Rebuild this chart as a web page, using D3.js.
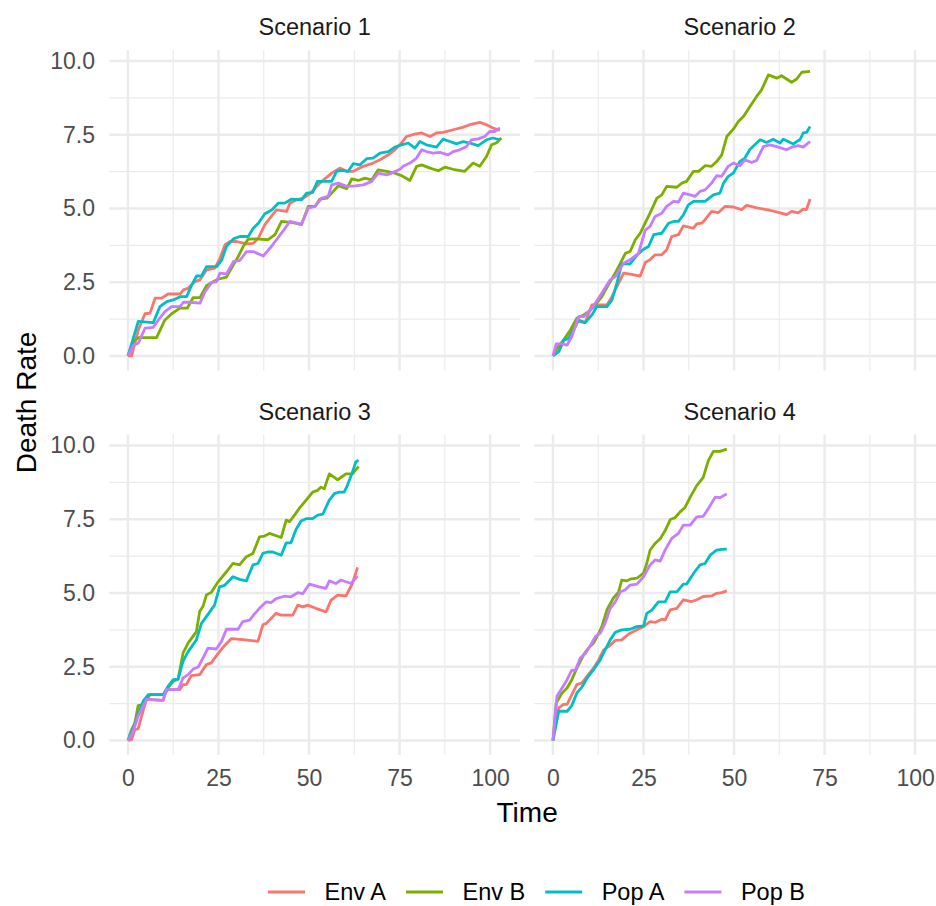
<!DOCTYPE html>
<html>
<head>
<meta charset="utf-8">
<script src="https://cdn.jsdelivr.net/npm/d3@7"></script>
<style>
  html, body { margin: 0; padding: 0; background: #fff; }
  svg { display: block; font-family: "Liberation Sans", Arial, Helvetica, sans-serif; }
</style>
</head>
<body>
<svg id="chart"></svg>
<script>
// facet labels, series and ticks
const scenarios = ["Scenario 1", "Scenario 2", "Scenario 3", "Scenario 4"];
const seriesNames = ["Env A", "Env B", "Pop A", "Pop B"];
const seriesColors = ["#F8766D", "#7CAE00", "#00BFC4", "#C77CFF"];
const xTicks = [0, 25, 50, 75, 100];
const yTicks = [0, 2.5, 5, 7.5, 10];

// [time, death rate]
const s1EnvA = [[0,0],[1.0,0],[2.85,0.88],[4.7,1.43],[6.1,1.45],[7.5,1.96],[9.3,1.96],[11.1,2.10],[14.4,2.10],[15.3,2.24],[16.7,2.30],[18.5,2.52],[19.9,2.58],[21.7,2.92],[24.0,2.98],[25.4,3.31],[26.8,3.77],[28.2,3.88],[30.0,3.88],[32.8,3.80],[34.6,3.82],[36.0,3.99],[37.8,4.45],[39.2,4.67],[41.0,4.95],[43.8,4.90],[44.7,5.18],[46.5,5.29],[48.4,5.35],[50.2,5.50],[53.0,5.86],[56.25,6.20],[58.5,6.37],[60.4,6.26],[62.2,6.26],[65.0,6.43],[67.7,6.54],[69.6,6.65],[71.9,6.82],[73.7,6.99],[75.1,7.16],[76.9,7.44],[79.2,7.52],[81.1,7.56],[83.4,7.44],[85.2,7.56],[87.0,7.58],[89.8,7.67],[92.6,7.76],[94.4,7.84],[97.2,7.92],[99.0,7.84],[100.8,7.73],[102.7,7.65]];
const s1EnvB = [[0,0],[1.5,0.49],[2.85,0.62],[7.9,0.62],[10.2,1.22],[12.05,1.43],[14.35,1.62],[16.4,1.62],[18.0,1.98],[19.9,1.98],[21.7,2.38],[23.1,2.49],[24.9,2.60],[27.2,2.67],[28.6,2.98],[30.45,3.37],[31.8,3.71],[33.2,3.96],[35.5,3.97],[38.7,3.94],[40.6,4.11],[42.4,4.56],[45.6,4.52],[47.9,4.45],[49.8,5.07],[51.65,5.07],[53.0,5.32],[54.9,5.35],[56.25,5.52],[58.1,5.77],[60.4,5.67],[61.8,6.00],[63.6,5.95],[65.4,6.03],[67.3,5.97],[69.1,6.31],[71.4,6.26],[73.7,6.20],[75.6,6.11],[77.85,5.95],[79.7,6.43],[81.1,6.48],[83.4,6.37],[85.7,6.28],[87.5,6.40],[89.8,6.33],[93.0,6.26],[95.3,6.54],[97.15,6.43],[99.0,6.76],[100.4,7.16],[101.7,7.22],[103.1,7.39]];
const s1PopA = [[0,0],[2.85,1.17],[7.0,1.13],[8.8,1.67],[10.7,1.84],[12.5,1.90],[14.4,2.01],[16.2,2.01],[17.6,2.41],[18.95,2.71],[20.3,2.71],[21.7,3.03],[24.5,3.03],[25.9,3.26],[27.2,3.71],[29.1,3.97],[30.9,4.05],[33.2,4.05],[34.6,4.33],[36.0,4.50],[37.8,4.82],[39.7,4.95],[41.5,5.18],[43.3,5.18],[45.2,5.32],[47.9,5.29],[49.3,5.52],[51.0,5.54],[52.3,5.92],[56.25,5.92],[57.6,6.26],[59.0,6.29],[60.8,6.26],[62.2,6.52],[64.1,6.48],[65.9,6.69],[67.7,6.71],[69.6,6.88],[71.9,6.93],[73.7,7.08],[75.6,7.16],[77.4,7.22],[79.2,7.05],[80.6,7.27],[82.4,7.16],[85.2,7.08],[87.0,7.35],[88.9,7.27],[90.7,7.19],[92.6,7.27],[94.4,7.22],[96.7,7.13],[99.0,7.33],[100.8,7.39],[102.7,7.33]];
const s1PopB = [[0,0],[1.5,0.37],[2.85,0.43],[4.7,0.94],[7.0,0.97],[8.4,1.22],[10.2,1.50],[12.05,1.67],[14.35,1.67],[15.3,1.82],[17.1,1.82],[19.9,1.79],[21.2,2.16],[23.1,2.49],[24.5,2.52],[25.4,2.81],[27.2,2.78],[29.1,3.20],[30.9,3.24],[32.75,3.54],[34.6,3.54],[37.35,3.39],[39.2,3.65],[41.0,3.94],[42.9,4.25],[44.7,4.56],[47.9,4.47],[49.8,5.01],[51.65,5.07],[53.5,5.35],[55.3,5.41],[56.25,5.80],[58.1,5.86],[60.4,5.75],[62.7,5.77],[65.0,5.80],[67.3,5.92],[69.1,6.20],[71.4,6.14],[72.8,6.20],[75.1,6.33],[76.0,6.43],[77.85,6.54],[79.7,6.71],[81.1,6.99],[82.4,6.93],[84.3,6.88],[86.1,6.90],[88.4,6.82],[89.8,6.93],[91.6,6.99],[93.5,7.10],[94.85,7.33],[96.7,7.36],[98.5,7.44],[99.9,7.61],[101.3,7.61],[102.7,7.73]];

const s2EnvA = [[0,0],[1.6,0.15],[2.9,0.49],[4.8,0.83],[6.6,1.17],[8.9,1.13],[10.75,1.73],[14.9,1.73],[16.3,2.01],[17.65,2.35],[19.5,2.81],[21.3,2.77],[24.1,2.71],[25.5,3.17],[26.8,3.26],[28.2,3.43],[30.05,3.43],[31.4,3.60],[32.8,4.05],[34.65,4.11],[36.0,4.41],[38.8,4.33],[39.7,4.48],[41.1,4.50],[42.0,4.62],[43.8,4.90],[45.7,4.86],[47.5,5.07],[49.8,5.05],[52.1,4.96],[53.5,5.11],[56.25,5.02],[59.9,4.94],[62.2,4.87],[64.5,4.79],[65.9,4.90],[67.7,4.85],[69.1,4.98],[70.0,4.96],[71.0,5.32]];
const s2EnvB = [[0,0],[1.1,0.26],[2.9,0.54],[4.8,0.88],[6.6,1.28],[8.5,1.39],[9.8,1.50],[11.7,1.73],[13.5,2.01],[15.3,2.41],[17.2,2.81],[18.6,3.14],[20.0,3.48],[21.3,3.54],[22.7,3.93],[24.1,4.16],[25.5,4.52],[26.8,4.84],[28.7,5.35],[30.05,5.46],[31.4,5.75],[34.2,5.72],[35.6,5.86],[36.9,5.92],[38.8,6.26],[40.2,6.26],[42.0,6.45],[43.8,6.43],[45.2,6.59],[46.6,6.82],[48.0,7.44],[49.8,7.69],[51.2,7.95],[52.6,8.12],[54.4,8.46],[56.25,8.80],[57.6,9.02],[59.5,9.53],[61.8,9.42],[63.1,9.50],[65.9,9.28],[67.3,9.39],[68.7,9.62],[71.0,9.65]];
const s2PopA = [[0,0],[1.6,0.15],[2.9,0.54],[4.3,0.58],[5.7,0.88],[7.1,1.22],[8.9,1.13],[10.75,1.39],[12.1,1.67],[14.9,1.67],[16.3,1.90],[17.65,2.47],[19.0,3.12],[21.3,3.12],[23.2,3.42],[25.0,3.62],[26.4,3.71],[27.8,4.11],[30.05,4.16],[31.9,4.50],[33.3,4.56],[34.65,4.56],[36.0,4.78],[37.4,5.12],[38.8,5.24],[42.0,5.24],[44.3,5.46],[46.1,5.52],[47.1,5.86],[48.4,6.09],[49.8,6.20],[51.65,6.60],[53.0,6.71],[54.4,7.01],[57.2,7.33],[59.0,7.24],[60.8,7.35],[62.7,7.22],[63.6,7.35],[66.4,7.19],[67.3,7.27],[68.2,7.33],[69.1,7.56],[70.0,7.58],[71.0,7.78]];
const s2PopB = [[0,0],[0.9,0.41],[2.5,0.41],[3.9,0.37],[5.2,0.66],[7.1,1.33],[8.5,1.33],[9.8,1.47],[11.7,1.79],[13.5,2.13],[15.8,2.58],[17.2,2.69],[19.5,3.14],[21.3,3.26],[23.6,3.48],[25.5,4.27],[26.8,4.39],[28.2,4.73],[30.05,4.84],[31.4,5.07],[33.3,5.24],[34.65,5.22],[36.0,5.52],[37.9,5.46],[39.2,5.41],[40.6,5.58],[42.0,5.63],[43.8,5.86],[45.2,6.11],[46.6,6.09],[48.4,6.43],[49.8,6.54],[51.65,6.45],[53.0,6.65],[54.9,6.56],[56.25,6.63],[58.1,7.10],[59.9,7.16],[61.8,7.10],[64.5,6.99],[65.9,7.08],[67.7,7.13],[69.1,7.08],[71.0,7.27]];

const s3EnvA = [[0,0],[1.0,0.03],[1.9,0.37],[2.8,0.39],[3.8,0.84],[5.1,1.39],[9.7,1.36],[10.6,1.72],[14.3,1.72],[15.2,1.89],[16.1,1.89],[17.5,2.20],[19.8,2.23],[21.65,2.57],[23.0,2.63],[24.9,2.95],[26.7,3.22],[28.5,3.45],[31.7,3.42],[35.9,3.36],[37.25,3.92],[38.2,3.97],[40.9,4.31],[42.3,4.25],[45.5,4.25],[46.9,4.59],[48.3,4.53],[49.6,4.59],[51.9,4.48],[54.7,4.36],[56.1,4.76],[57.9,4.93],[60.2,4.90],[62.0,5.33],[63.4,5.87]];
const s3EnvB = [[0,0],[1.0,0.37],[1.9,0.59],[2.8,1.18],[4.2,1.21],[6.1,1.55],[9.7,1.55],[10.6,1.66],[11.5,1.86],[12.5,2.00],[13.85,2.08],[15.2,2.96],[16.6,3.30],[18.9,3.69],[19.8,4.37],[20.7,4.54],[21.65,4.93],[23.0,5.02],[24.9,5.38],[27.2,5.72],[29.0,6.00],[30.8,5.95],[32.7,6.23],[34.5,6.34],[36.3,6.90],[37.7,6.93],[39.1,7.02],[42.3,6.88],[43.7,7.47],[44.6,7.42],[46.0,7.64],[47.3,7.87],[49.2,8.15],[51.0,8.42],[52.4,8.48],[53.3,8.59],[54.2,8.53],[55.6,9.04],[57.9,8.84],[60.2,9.04],[62.0,9.04],[63.7,9.29]];
const s3PopA = [[0,0],[1.5,0.43],[2.8,0.88],[4.2,1.33],[5.6,1.55],[9.7,1.55],[11.1,1.84],[12.5,2.06],[13.85,2.08],[15.2,2.68],[16.6,3.01],[18.9,3.41],[20.3,3.97],[21.65,4.20],[23.9,4.59],[25.3,5.21],[26.7,5.26],[29.0,5.55],[30.8,5.46],[32.7,5.41],[34.5,5.95],[35.9,6.00],[37.25,6.34],[38.6,6.39],[40.0,6.39],[42.3,6.28],[43.7,6.70],[45.0,6.70],[46.4,7.15],[47.8,7.44],[49.2,7.52],[51.0,7.52],[52.4,7.64],[53.8,7.67],[55.6,8.15],[57.0,8.37],[58.3,8.42],[59.7,8.42],[60.6,8.65],[62.0,9.10],[62.9,9.44],[63.7,9.50]];
const s3PopB = [[0,0],[1.0,0.20],[1.9,0.48],[2.8,0.82],[5.1,1.39],[9.7,1.36],[10.6,1.72],[13.85,1.72],[15.2,2.12],[16.6,2.23],[18.0,2.42],[19.4,2.49],[20.7,2.79],[22.1,3.13],[24.4,3.10],[25.8,3.35],[27.2,3.77],[30.4,3.77],[31.7,4.03],[33.6,4.08],[34.95,4.29],[36.3,4.48],[38.2,4.70],[39.5,4.67],[40.9,4.81],[43.2,4.89],[45.0,4.87],[46.9,5.01],[48.3,4.98],[50.1,5.30],[52.8,5.21],[54.7,5.16],[55.6,5.41],[57.4,5.32],[58.8,5.44],[61.6,5.32],[63.4,5.57]];

const s4EnvA = [[0,0],[0.6,0.48],[1.6,1.10],[2.9,1.22],[3.9,1.22],[5.2,1.55],[6.6,1.89],[8.0,1.95],[9.4,2.17],[11.2,2.45],[12.6,2.73],[14.0,3.07],[15.35,3.18],[17.2,3.39],[19.0,3.41],[20.9,3.61],[23.2,3.75],[25.0,3.86],[26.8,4.03],[28.2,4.00],[30.05,4.11],[31.0,4.09],[32.35,4.43],[34.2,4.48],[36.0,4.77],[38.3,4.71],[39.7,4.77],[41.5,4.88],[43.8,4.90],[45.2,4.99],[46.6,5.01],[48.0,5.07]];
const s4EnvB = [[0,0],[0.9,1.27],[2.5,1.61],[3.9,1.78],[5.2,2.06],[6.6,2.45],[8.5,2.91],[9.8,3.13],[11.2,3.30],[12.6,3.62],[13.5,3.86],[14.9,4.43],[16.7,4.83],[18.1,5.03],[19.0,5.44],[20.4,5.41],[21.3,5.47],[23.2,5.50],[25.0,5.67],[25.9,6.00],[26.8,6.45],[28.2,6.68],[29.6,6.84],[31.0,7.12],[32.4,7.49],[33.7,7.55],[35.1,7.75],[36.5,7.91],[37.9,8.25],[39.7,8.64],[41.5,8.92],[42.9,9.49],[44.3,9.80],[46.1,9.80],[48.0,9.88]];
const s4PopA = [[0,0],[1.6,0.99],[3.9,0.99],[5.2,1.18],[6.6,1.61],[8.0,1.81],[9.4,2.11],[11.2,2.40],[13.05,2.73],[14.4,3.07],[15.8,3.41],[17.2,3.67],[19.0,3.75],[21.3,3.77],[23.2,3.86],[25.0,3.88],[25.9,4.31],[27.3,4.42],[29.1,4.70],[31.0,4.70],[32.35,5.04],[34.2,5.04],[36.0,5.30],[36.9,5.30],[38.8,5.66],[40.6,5.95],[42.0,6.00],[43.4,6.28],[45.2,6.45],[46.6,6.48],[48.0,6.49]];
const s4PopB = [[0,0],[1.1,1.50],[2.5,1.78],[3.9,2.06],[5.2,2.38],[6.2,2.38],[7.5,2.79],[8.9,2.94],[10.3,3.21],[11.7,3.52],[13.05,3.64],[14.4,3.97],[15.8,4.48],[17.2,4.70],[18.6,5.04],[19.9,5.10],[21.3,5.27],[23.2,5.30],[25.0,5.55],[26.8,5.95],[28.2,6.12],[29.6,6.08],[31.0,6.46],[32.8,6.85],[34.65,7.02],[36.0,7.30],[37.9,7.30],[39.7,7.58],[41.5,7.60],[42.9,7.86],[44.8,8.25],[46.1,8.23],[48.0,8.36]];

const scenarioData = [
  [s1EnvA, s1EnvB, s1PopA, s1PopB],
  [s2EnvA, s2EnvB, s2PopA, s2PopB],
  [s3EnvA, s3EnvB, s3PopA, s3PopB],
  [s4EnvA, s4EnvB, s4PopA, s4PopB]
];

const width = 936, height = 906;
const panelLeft = 109.3, panelTop = 50;
const pw = 410.7, ph = 320.5, hgap = 14.3, vgap = 64;
const grid = "#EBEBEB";

const svg = d3.select("#chart")
    .attr("width", width)
    .attr("height", height)
    .attr("viewBox", [0, 0, width, height]);

// fixed scales shared by all facets, 5% expansion like ggplot
const allPts = scenarioData.flat(2);
const tMax = d3.max(allPts, d => d[0]);
const vMax = d3.max(allPts, d => d[1]);
const x = d3.scaleLinear().domain([-0.05 * tMax, 1.05 * tMax]).range([0, pw]);
const y = d3.scaleLinear().domain([-0.05 * vMax, 1.05 * vMax]).range([ph, 0]);

const midpoints = t => t.slice(0, -1).map((d, i) => (d + t[i + 1]) / 2);
const xMinor = midpoints(xTicks);
const yMinor = midpoints(yTicks);

const line = d3.line()
    .x(d => x(d[0]))
    .y(d => y(d[1]));

scenarios.forEach((name, i) => {
    const col = i % 2, row = Math.floor(i / 2);
    const g = svg.append("g")
        .attr("transform", `translate(${panelLeft + col * (pw + hgap)},${panelTop + row * (ph + vgap)})`);

    // minor grid
    g.selectAll(".xminor").data(xMinor).join("line")
        .attr("class", "xminor")
        .attr("x1", d => x(d)).attr("x2", d => x(d))
        .attr("y1", 0).attr("y2", ph)
        .attr("stroke", grid).attr("stroke-width", 1.2);
    g.selectAll(".yminor").data(yMinor).join("line")
        .attr("class", "yminor")
        .attr("x1", 0).attr("x2", pw)
        .attr("y1", d => y(d)).attr("y2", d => y(d))
        .attr("stroke", grid).attr("stroke-width", 1.2);

    // major grid
    g.selectAll(".xmajor").data(xTicks).join("line")
        .attr("class", "xmajor")
        .attr("x1", d => x(d)).attr("x2", d => x(d))
        .attr("y1", 0).attr("y2", ph)
        .attr("stroke", grid).attr("stroke-width", 2.4);
    g.selectAll(".ymajor").data(yTicks).join("line")
        .attr("class", "ymajor")
        .attr("x1", 0).attr("x2", pw)
        .attr("y1", d => y(d)).attr("y2", d => y(d))
        .attr("stroke", grid).attr("stroke-width", 2.4);

    // series
    g.selectAll("path.series").data(scenarioData[i]).join("path")
        .attr("class", "series")
        .attr("d", line)
        .attr("fill", "none")
        .attr("stroke", (d, k) => seriesColors[k])
        .attr("stroke-width", 2.8)
        .attr("stroke-linejoin", "round")
        .attr("stroke-linecap", "butt");

    // strip label
    g.append("text")
        .attr("x", pw / 2)
        .attr("y", -15)
        .attr("text-anchor", "middle")
        .attr("fill", "#1A1A1A")
        .style("font-size", "23.5px")
        .text(name);

    if (col === 0) {
        const ya = g.append("g")
            .call(d3.axisLeft(y).tickValues(yTicks).tickFormat(d3.format(".1f")).tickSize(0).tickPadding(14.3));
        ya.select(".domain").remove();
        ya.attr("font-family", null).attr("font-size", null);
        ya.selectAll("text").attr("fill", "#4D4D4D").style("font-size", "23px");
    }
    if (row === 1) {
        const xa = g.append("g")
            .attr("transform", `translate(0,${ph})`)
            .call(d3.axisBottom(x).tickValues(xTicks).tickFormat(d3.format("d")).tickSize(0).tickPadding(14.5));
        xa.select(".domain").remove();
        xa.attr("font-family", null).attr("font-size", null);
        xa.selectAll("text").attr("fill", "#4D4D4D").style("font-size", "23px");
    }
});

// axis titles
const panelsRight = panelLeft + 2 * pw + hgap;
svg.append("text")
    .attr("x", (panelLeft + panelsRight) / 2)
    .attr("y", 821.7)
    .attr("text-anchor", "middle")
    .attr("fill", "#000")
    .style("font-size", "28px")
    .text("Time");

svg.append("text")
    .attr("transform", `translate(36,${panelTop + ph + vgap / 2}) rotate(-90)`)
    .attr("text-anchor", "middle")
    .attr("fill", "#000")
    .style("font-size", "28px")
    .text("Death Rate");

// legend (nudged up a little so the descenders stay inside the page)
const keyW = 37, keyGap = 19.5, itemGap = 20, legendCenter = 536.5, legendY = 892;
const legend = svg.append("g");
const items = legend.selectAll("g").data(seriesNames).join("g");
items.append("line")
    .attr("x1", 0).attr("x2", keyW)
    .attr("y1", 0).attr("y2", 0)
    .attr("stroke", (d, k) => seriesColors[k])
    .attr("stroke-width", 2.8);
items.append("text")
    .attr("x", keyW + keyGap)
    .attr("y", 8.2)
    .attr("fill", "#000")
    .style("font-size", "23.5px")
    .text(d => d);

const widths = [];
items.select("text").each(function () { widths.push(this.getComputedTextLength()); });
const total = d3.sum(widths) + seriesNames.length * (keyW + keyGap) + (seriesNames.length - 1) * itemGap;
let cursor = legendCenter - total / 2;
items.attr("transform", (d, k) => {
    const pos = cursor;
    cursor += keyW + keyGap + widths[k] + itemGap;
    return `translate(${pos},${legendY})`;
});
</script>
</body>
</html>
